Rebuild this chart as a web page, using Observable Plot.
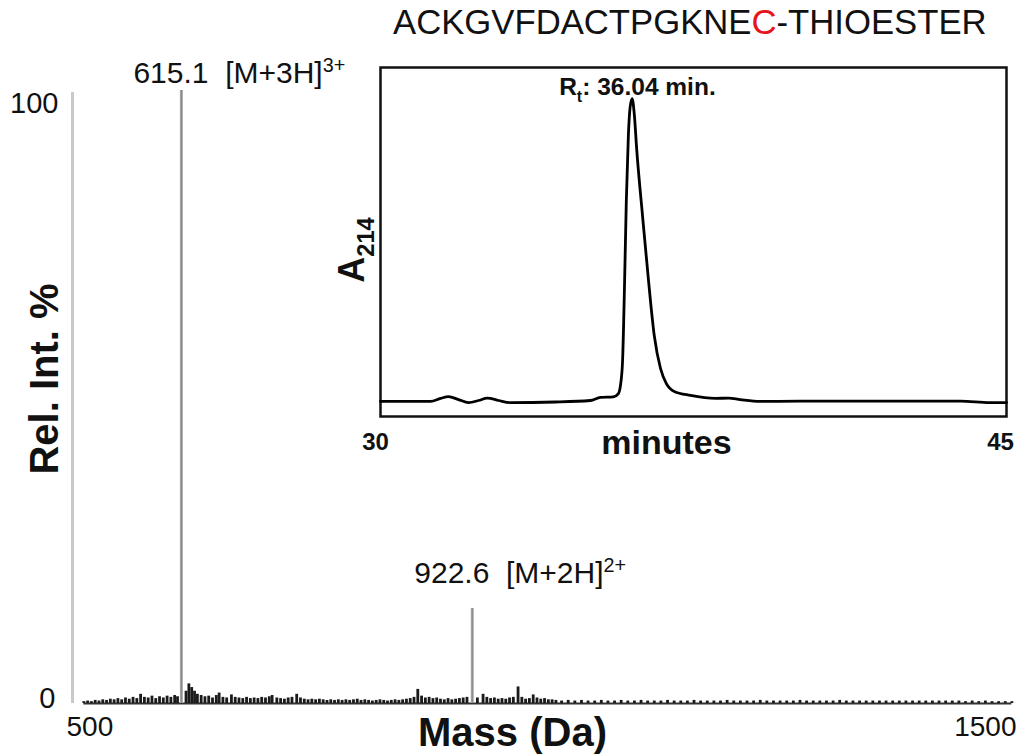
<!DOCTYPE html>
<html>
<head>
<meta charset="utf-8">
<script src="https://cdn.jsdelivr.net/npm/d3@7"></script>
<script src="https://cdn.jsdelivr.net/npm/@observablehq/plot@0.6"></script>
<style>
  html, body { margin: 0; padding: 0; background: #fff; }
  #wrap { position: relative; width: 1027px; height: 756px; overflow: hidden; font-family: "Liberation Sans", Arial, sans-serif; }
  #title { position: absolute; left: 393px; top: 2px; font-size: 34.7px; line-height: 40px; white-space: nowrap; color: #111; }
  #title .hl { color: #e8141b; }
  #main, #inset { position: absolute; }
  #main { left: 0; top: 0; }
  #inset { left: 320px; top: 60px; }
</style>
</head>
<body>
<div id="wrap">
  <div id="main"></div>
  <div id="inset"></div>
  <div id="title"></div>
</div>
<script>
// ---------- data ----------
const titleParts = ["ACKGVFDACTPGKNE", "C", "-THIOESTER"];
const titleHighlight = 1;

// Mass spectrum: main peaks
const peakMass = [615.1, 922.6];
const peakInt = [100, 15.5];
const peakLabel = ["615.1\u00a0\u00a0[M+3H]^{3+}", "922.6\u00a0\u00a0[M+2H]^{2+}"];

// Mass spectrum: baseline noise (m/z, rel. int. %)
const noiseMass = [512,516,520,524,528,532,536,540,544,548,552,556,560,564,568,572,576,580,584,588,592,596,600,604,608,611,
620,623,626,629,632,636,640,644,648,652,655,659,663,668,672,676,680,684,688,692,696,700,704,708,711,716,720,724,728,732,737,741,745,749,753,757,761,765,769,773,777,781,785,789,793,797,801,805,809,813,817,821,825,829,833,837,841,845,849,853,857,861,865,869,873,877,881,885,889,893,897,901,905,909,913,917,
928,934,938,942,946,950,954,958,962,966,971,975,979,983,987,991,995,999,1003,1007,1011,
1017,1024,1031,1038,1045,1052,1059,1066,1073,1080,1087,1094,1101,1108,1115,1122,1129,1136,1143,1150,1157,1164,1171,1178,1185,1192,1199,1206,1213,1220,1227,1234,1241,1248,1255,1262,1269,1276,1283,1290,1297,1304,1311,1318,1325,1332,1339,1346,1353,1360,1367,1374,1381,1388,1395,1402,1409,1416,1423,1430,1437,1444,1451,1458,1465,1472,1479,1486,1493];
const noiseInt = [0.3,0.4,0.3,0.5,0.4,0.6,0.5,0.7,0.6,0.8,0.6,0.9,0.7,1.0,0.8,1.5,1.0,0.9,1.2,0.8,1.1,0.9,1.2,1.0,1.3,1.1,
2.0,3.2,2.6,2.0,1.5,1.3,1.1,1.2,0.9,1.3,1.7,1.0,0.9,1.4,1.0,0.9,0.8,1.0,0.8,0.9,0.8,1.0,0.9,1.1,1.3,0.9,0.8,0.7,0.9,1.0,1.5,0.9,0.7,0.6,0.7,0.6,0.7,0.6,0.5,0.6,0.5,0.6,0.5,0.6,0.5,0.6,0.7,0.5,0.6,0.5,0.4,0.5,0.6,0.5,0.4,0.5,0.6,0.5,0.6,0.7,0.8,1.0,2.3,1.2,0.9,1.0,0.8,0.9,0.7,0.6,0.8,0.6,0.7,0.8,0.9,1.0,
0.9,1.5,1.0,0.8,0.9,0.7,0.8,0.7,0.9,1.0,2.7,1.0,0.7,0.8,1.4,0.9,0.7,0.8,0.6,0.6,0.5,
0.4,0.5,0.4,0.5,0.4,0.4,0.5,0.4,0.4,0.5,0.4,0.4,0.5,0.4,0.4,0.4,0.5,0.4,0.4,0.4,0.5,0.4,0.4,0.4,0.4,0.5,0.4,0.4,0.4,0.4,0.5,0.4,0.4,0.4,0.4,0.4,0.5,0.4,0.4,0.4,0.4,0.4,0.5,0.4,0.4,0.4,0.4,0.4,0.4,0.4,0.4,0.4,0.4,0.4,0.4,0.4,0.4,0.4,0.4,0.4,0.4,0.3,0.4,0.3,0.4,0.3,0.3,0.3,0.3];

const massTicks = [500, 1500];
const intTicks = [0, 100];

// HPLC inset chromatogram (minutes, A214 relative)
const hplcT = [30.00,31.20,31.44,31.63,31.87,32.11,32.35,32.56,32.83,33.11,34.19,35.03,35.27,35.58,35.70,35.75,35.80,35.85,35.89,35.94,35.98,36.03,36.08,36.14,36.28,36.42,36.56,36.71,36.85,37.04,37.43,38.03,38.34,38.62,39.10,40.06,43.90,44.60,45.00];
const hplcA = [-0.3,-0.3,0.7,1.3,0.3,-0.7,0,0.8,0,-0.7,-0.5,0,1.0,1.2,2.3,5,13,40,66,88,97,100,95,83,61,40,21.5,10.6,5.6,3,1.7,0.7,0.8,0.3,-0.3,-0.2,-0.2,-0.7,-0.7];
const hplcPeakT = 36.03;
const hplcPeakA = 100;
const hplcPeakLabel = "R_{t}: 36.04 min.";
const timeTicks = [30, 45];

// ---------- helpers ----------
const FONT = "Liberation Sans, Arial, Helvetica, sans-serif";
const NS = "http://www.w3.org/2000/svg";
function richText(svg) {
  svg.querySelectorAll("text").forEach(t => {
    const s = t.textContent;
    if (!/[_^]\{/.test(s)) return;
    const fs = parseFloat(getComputedStyle(t).fontSize) || 20;
    while (t.firstChild) t.removeChild(t.firstChild);
    const re = /([_^])\{([^}]*)\}/g;
    let last = 0, m, shift = 0;
    const add = (str, dy, size) => {
      if (!str) return;
      const ts = document.createElementNS(NS, "tspan");
      if (dy) ts.setAttribute("dy", dy);
      if (size) ts.setAttribute("font-size", size);
      ts.textContent = str;
      t.appendChild(ts);
    };
    while ((m = re.exec(s))) {
      add(s.slice(last, m.index), shift ? -shift : 0, null); shift = 0;
      const d = m[1] === "^" ? -0.38 * fs : 0.28 * fs;
      add(m[2], d, 0.66 * fs);
      shift = d;
      last = re.lastIndex;
    }
    add(s.slice(last), shift ? -shift : 0, null);
  });
}

// ---------- title ----------
const title = document.getElementById("title");
titleParts.forEach((p, i) => {
  const sp = document.createElement("span");
  sp.textContent = p;
  if (i === titleHighlight) sp.className = "hl";
  title.appendChild(sp);
});

// ---------- main spectrum ----------
const noise = noiseMass.map((m, i) => ({m, v: noiseInt[i]}));
const peaks = peakMass.map((m, i) => ({m, v: peakInt[i], label: peakLabel[i]}));

const main = Plot.plot({
  width: 1027, height: 756,
  marginLeft: 72, marginRight: 9, marginTop: 90, marginBottom: 53,
  style: {fontFamily: FONT, background: "transparent", color: "#111"},
  x: {domain: massTicks, axis: null},
  y: {domain: intTicks, axis: null},
  marks: [
    Plot.ruleX([massTicks[0]], {y1: intTicks[0], y2: intTicks[1], stroke: "#c9c9c9", strokeWidth: 3, insetBottom: -2}),
    Plot.ruleY([0], {x1: noiseMass[0], x2: noiseMass[noiseMass.length - 1], stroke: "#333", strokeWidth: 2}),
    Plot.ruleX(noise, {x: "m", y1: 0, y2: "v", stroke: "#1a1a1a", strokeWidth: 2.8}),
    Plot.ruleX(peaks, {x: "m", y1: 0, y2: "v", stroke: "#a6a6a6", strokeWidth: 3}),
    Plot.ruleX(peaks, {x: "m", y1: 0, y2: "v", stroke: "#8a8a8a", strokeWidth: 1}),
    Plot.text([peaks[0]], {x: "m", y: "v", text: "label", textAnchor: "start", dx: -48, dy: -17, fontSize: 30}),
    Plot.text([peaks[1]], {x: "m", y: "v", text: "label", textAnchor: "start", dx: -58, dy: -35, fontSize: 30}),
    // y tick labels
    Plot.text([intTicks[1]], {x: massTicks[0], y: d => d, text: d => String(d), textAnchor: "end", dx: -14, dy: 13, fontSize: 29}),
    Plot.text([intTicks[0]], {x: massTicks[0], y: d => d, text: d => String(d), textAnchor: "end", dx: -17, dy: -5, fontSize: 29}),
    // x tick labels
    Plot.text([massTicks[0]], {x: d => d, y: intTicks[0], text: d => String(d), textAnchor: "start", dx: -6, dy: 24, fontSize: 28}),
    Plot.text([massTicks[1]], {x: d => d, y: intTicks[0], text: d => String(d), textAnchor: "end", dx: -2, dy: 24, fontSize: 28}),
    // axis titles
    Plot.text(["Mass (Da)"], {frameAnchor: "bottom", text: d => d, dx: -33, dy: 42, fontSize: 40, fontWeight: "bold"}),
    Plot.text(["Rel. Int. %"], {frameAnchor: "left", text: d => d, rotate: -90, textAnchor: "middle", lineAnchor: "middle", dx: -27, dy: -18, fontSize: 40, fontWeight: "bold"})
  ]
});
document.getElementById("main").appendChild(main);
richText(main);

// ---------- HPLC inset ----------
const hplc = hplcT.map((t, i) => ({t, a: hplcA[i]}));
const inset = Plot.plot({
  width: 707, height: 420,
  marginLeft: 60, marginRight: 21, marginTop: 7, marginBottom: 64,
  style: {fontFamily: FONT, background: "transparent", color: "#111"},
  x: {domain: timeTicks, axis: null},
  y: {domain: [-5.3, 110.3], axis: null},
  marks: [
    Plot.frame({stroke: "#111", strokeWidth: 2.5}),
    Plot.line(hplc, {x: "t", y: "a", curve: "monotone-x", stroke: "#000", strokeWidth: 2.8}),
    Plot.text([{t: hplcPeakT, a: hplcPeakA, label: hplcPeakLabel}], {x: "t", y: "a", text: "label", textAnchor: "start", dx: -73, dy: -11, fontSize: 24.5, fontWeight: "bold"}),
    Plot.text([timeTicks[0]], {x: d => d, frameAnchor: "bottom", text: d => String(d), dx: -5, dy: 33, fontSize: 24, fontWeight: "bold"}),
    Plot.text([timeTicks[1]], {x: d => d, frameAnchor: "bottom", text: d => String(d), dx: -6, dy: 33, fontSize: 24, fontWeight: "bold"}),
    Plot.text(["minutes"], {frameAnchor: "bottom", text: d => d, dx: -27, dy: 37, fontSize: 34, fontWeight: "bold"}),
    Plot.text(["A_{214}"], {frameAnchor: "left", text: d => d, rotate: -90, textAnchor: "middle", lineAnchor: "middle", dx: -28, dy: 8, fontSize: 36, fontWeight: "bold"})
  ]
});
document.getElementById("inset").appendChild(inset);
richText(inset);
</script>
</body>
</html>
